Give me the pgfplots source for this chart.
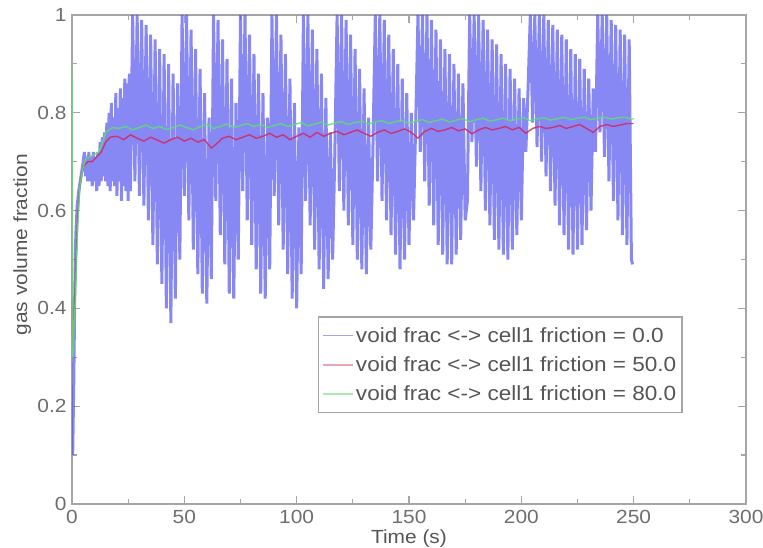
\documentclass[border=0pt]{standalone}
\usepackage{pgfplots}
\pgfplotsset{compat=1.18}
\usepackage{fontspec}
\setmainfont{Liberation Sans}[FakeStretch=1.1]
\definecolor{axgray}{RGB}{165,165,165}
\definecolor{txtgray}{RGB}{85,85,85}
\definecolor{bl}{RGB}{85,85,240}
\definecolor{rd}{RGB}{210,40,95}
\definecolor{gr}{RGB}{90,225,110}
\definecolor{lbl}{RGB}{165,165,235}
\definecolor{lrd}{RGB}{235,165,180}
\definecolor{lgr}{RGB}{170,235,175}
\begin{document}
\begin{tikzpicture}
\begin{axis}[
  width=674pt, height=489pt, scale only axis,
  xmin=0, xmax=300, ymin=0, ymax=1,
  xtick={0,50,...,300}, minor xtick={25,75,...,275},
  ytick={0,0.2,...,1}, minor ytick={0.1,0.3,...,0.9},
  yticklabels={0,0.2,0.4,0.6,0.8,1},
  tick align=inside,
  major tick length=8pt, minor tick length=5pt,
  axis line style={axgray, line width=1.5pt},
  every tick/.style={axgray, line width=1.2pt},
  tick label style={font=\fontsize{19}{22}\selectfont, text=txtgray!85},
  /pgf/number format/assume math mode=true,
  xticklabel style={yshift=-3pt},
  yticklabel style={xshift=-2pt},
  xlabel={Time (s)}, ylabel={gas volume fraction},
  label style={font=\fontsize{19}{22}\selectfont, text=txtgray},
  xlabel style={at={(axis description cs:0.5,-0.07)}, anchor=center},
  ylabel style={at={(axis description cs:-0.074,0.53)}, anchor=center, rotate=0},
  legend cell align=left,
  legend style={at={(0.9065,0.186)}, anchor=south east, draw=axgray, line width=1.5pt,
    font=\fontsize{20.5}{23}\selectfont, text=txtgray, row sep=9pt, inner xsep=4pt, inner ysep=8pt},
  legend image code/.code={\draw[#1] (0pt,0pt) -- (26pt,0pt); \path (0pt,0pt) -- (30pt,0pt);},
  clip=true,
]
\addlegendimage{draw=lbl, line width=1.6pt}
\addlegendentry{void frac <-> cell1 friction = 0.0}
\addlegendimage{draw=lrd, line width=1.6pt}
\addlegendentry{void frac <-> cell1 friction = 50.0}
\addlegendimage{draw=lgr, line width=1.6pt}
\addlegendentry{void frac <-> cell1 friction = 80.0}
\addplot[bl, line width=3pt, opacity=0.7, line join=bevel, forget plot] coordinates {
(0.3,0.10) (0.8,0.25) (1.2,0.42) (1.7,0.55) (2.3,0.61) (3,0.64) (4,0.67) (5,0.70)
(5.5,0.72) (6,0.67) (6.5,0.71) (7,0.66) (7.5,0.72) (8,0.66) (8.5,0.71) (9,0.65)
(9.5,0.72) (10,0.66) (10.5,0.71) (11,0.64) (11.5,0.72) (12,0.65) (12.5,0.74) (13,0.66)
(13.5,0.75) (14,0.67) (14.5,0.76) (15,0.66) (15.5,0.78) (16,0.65) (16.5,0.80) (17,0.64)
(17.5,0.82) (18,0.66) (18.5,0.79) (19,0.65) (19.5,0.84) (20,0.63) (20.5,0.81) (21,0.66)
(21.5,0.85) (22,0.62) (22.5,0.83) (23,0.65) (23.5,0.87) (24,0.64) (24.5,0.86) (25,0.62)
(25.5,0.88) (26,0.64)
(27,1.00) (28,0.66) (29,1.00) (30,0.63) (31,0.99) (32,0.61) (33,0.98) (34,0.58) (35,0.96)
(36,0.53) (37,0.95) (38,0.49) (39,0.93) (40,0.45) (41,0.92) (42,0.40) (43,0.90) (44,0.37)
(45,0.88) (46,0.42) (47,0.86) (48,0.50)
(49,1.00) (50,0.63) (51,1.00) (52,0.58) (53,0.97) (54,0.52) (55,0.93) (56,0.47) (57,0.89)
(58,0.43) (59,0.84) (60,0.41) (61,0.79) (62,0.46)
(63,1.00) (64,0.62) (65,0.99) (66,0.55) (67,0.95) (68,0.49) (69,0.91) (70,0.43) (71,0.87)
(72,0.42) (73,0.82) (74,0.50)
(75,1.00) (76,0.64) (77,1.00) (78,0.58) (79,0.96) (80,0.53) (81,0.92) (82,0.48) (83,0.88)
(84,0.43) (85,0.84) (86,0.42) (87,0.79) (88,0.48)
(89,1.00) (90,0.63) (91,1.00) (92,0.57) (93,0.96) (94,0.52) (95,0.92) (96,0.47) (97,0.87)
(98,0.42) (99,0.82) (100,0.40) (101,0.77) (102,0.47)
(103,1.00) (104,0.62) (105,1.00) (106,0.57) (107,0.97) (108,0.52) (109,0.93) (110,0.48)
(111,0.88) (112,0.44) (113,0.83) (114,0.46) (115,0.76) (116,0.50) (117,0.72)
(118,1.00) (119,0.64) (120,1.00) (121,0.60) (122,0.99) (123,0.57) (124,0.96) (125,0.53)
(126,0.93) (127,0.50) (128,0.89) (129,0.48) (130,0.85) (131,0.47) (132,0.79) (133,0.52) (134,0.74)
(135,1.00) (136,0.66) (137,1.00) (138,0.62) (139,0.99) (140,0.58) (141,0.96) (142,0.55)
(143,0.93) (144,0.51) (145,0.90) (146,0.48) (147,0.87) (148,0.50) (149,0.84) (150,0.53)
(151,0.80) (152,0.58) (153,0.78)
(154,1.00) (155,0.72) (156,1.00) (157,0.66) (158,1.00) (159,0.61) (160,0.99) (161,0.57)
(162,0.97) (163,0.53) (164,0.95) (165,0.51) (166,0.93) (167,0.49) (168,0.92) (169,0.49)
(170,0.90) (171,0.51) (172,0.88) (173,0.54) (174,0.86) (175,0.58) (176,0.62)
(177,1.00) (178,0.74) (179,1.00) (180,0.69) (181,1.00) (182,0.64) (183,0.99) (184,0.60)
(185,0.97) (186,0.57) (187,0.95) (188,0.54) (189,0.94) (190,0.52) (191,0.92) (192,0.51)
(193,0.90) (194,0.50) (195,0.89) (196,0.52) (197,0.87) (198,0.55) (199,0.85) (200,0.58)
(201,0.83) (202,0.72) (203,0.85)
(204,1.00) (205,0.78) (206,1.00) (207,0.73) (208,1.00) (209,0.70) (210,1.00) (211,0.67)
(212,0.99) (213,0.64) (214,0.98) (215,0.61) (216,0.97) (217,0.57) (218,0.96) (219,0.55)
(220,0.95) (221,0.52) (222,0.93) (223,0.51) (224,0.92) (225,0.52) (226,0.91) (227,0.53)
(228,0.89) (229,0.56) (230,0.87) (231,0.60) (232,0.85) (233,0.72)
(234,1.00) (235,0.76) (236,1.00) (237,0.71) (238,1.00) (239,0.66) (240,0.99) (241,0.62)
(242,0.98) (243,0.58) (244,0.97) (245,0.55) (246,0.96) (247,0.53) (248,0.95) (249,0.50)
(249.5,0.49)
};
\addplot[rd, line width=1.4pt, opacity=0.85, forget plot] coordinates {
(0,0.42) (0.4,0.32) (1.5,0.45) (2.5,0.58) (3.5,0.65) (5,0.69) (7,0.70) (9,0.70) (11,0.71)
(13,0.72) (15,0.74) (17,0.75)
(20,0.752) (23,0.745) (26,0.755) (29,0.748) (32,0.742) (35,0.750) (38,0.744) (41,0.738)
(44,0.745) (47,0.750) (50,0.742) (53,0.748) (56,0.740) (59,0.745) (62,0.728) (64,0.735)
(67,0.748) (70,0.752) (73,0.745) (76,0.750) (79,0.755) (82,0.748) (85,0.752) (88,0.758)
(91,0.750) (94,0.755) (97,0.745) (100,0.752) (103,0.758) (106,0.750) (109,0.760) (112,0.752)
(115,0.758) (118,0.762) (121,0.755) (124,0.760) (127,0.765) (130,0.758) (133,0.752) (136,0.760)
(139,0.765) (142,0.758) (145,0.762) (148,0.767) (151,0.760) (154,0.748) (157,0.762) (160,0.768)
(163,0.762) (166,0.765) (169,0.770) (172,0.763) (175,0.767) (178,0.757) (181,0.765) (184,0.770)
(187,0.765) (190,0.768) (193,0.772) (196,0.765) (199,0.770) (202,0.758) (205,0.768) (208,0.772)
(211,0.768) (214,0.770) (217,0.774) (220,0.768) (223,0.772) (226,0.776) (229,0.768) (232,0.760)
(235,0.772) (238,0.776) (241,0.772) (244,0.775) (247,0.778) (250,0.778)
};
\addplot[gr, line width=1.4pt, opacity=0.85, forget plot] coordinates {
(0,0.90) (0.4,0.30) (1.5,0.42) (2.5,0.56) (3.5,0.65) (5,0.69) (6,0.705) (8,0.71) (10,0.715)
(12,0.72) (14,0.745) (15,0.76)
(18,0.770) (21,0.768) (24,0.772) (27,0.765) (30,0.770) (33,0.775) (36,0.768) (39,0.772)
(42,0.766) (45,0.770) (48,0.775) (51,0.770) (54,0.765) (57,0.772) (60,0.776) (63,0.768)
(66,0.772) (69,0.777) (72,0.770) (75,0.774) (78,0.778) (81,0.772) (84,0.776) (87,0.770)
(90,0.774) (93,0.778) (96,0.772) (99,0.776) (102,0.780) (105,0.773) (108,0.777) (111,0.781)
(114,0.775) (117,0.779) (120,0.782) (123,0.776) (126,0.780) (129,0.783) (132,0.777) (135,0.781)
(138,0.784) (141,0.778) (144,0.782) (147,0.785) (150,0.779) (153,0.783) (156,0.786) (159,0.780)
(162,0.784) (165,0.787) (168,0.781) (171,0.785) (174,0.788) (177,0.782) (180,0.786) (183,0.789)
(186,0.783) (189,0.786) (192,0.789) (195,0.784) (198,0.787) (201,0.790) (204,0.784) (207,0.787)
(210,0.790) (213,0.785) (216,0.788) (219,0.791) (222,0.786) (225,0.789) (228,0.791) (231,0.786)
(234,0.789) (237,0.791) (240,0.787) (243,0.790) (246,0.791) (249,0.787) (250,0.788)
};
\end{axis}
\path (current axis.south west) ++(-72pt,-44pt) coordinate (bbl);
\path (current axis.north east) ++(17pt,15pt) coordinate (btr);
\pgfresetboundingbox
\path[use as bounding box] (bbl) rectangle (btr);
\end{tikzpicture}
\end{document}
